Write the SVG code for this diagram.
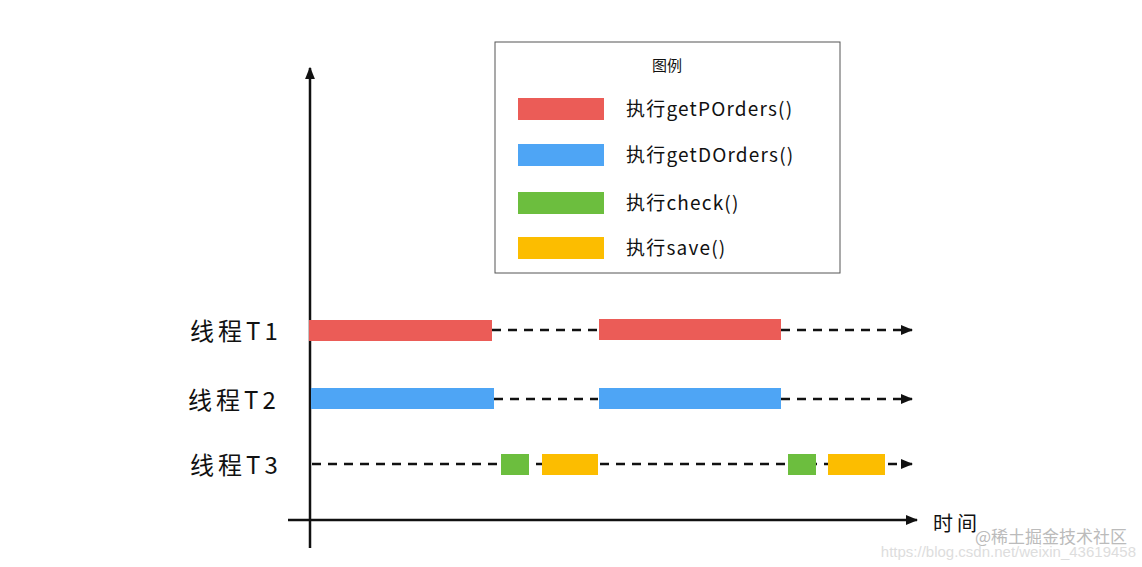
<svg xmlns="http://www.w3.org/2000/svg" width="1142" height="567" viewBox="0 0 1142 567">
<style>
.t{font-family:"Noto Sans CJK SC","Liberation Sans",sans-serif;fill:#111}
.lg{font-size:19px;letter-spacing:1.2px}
.th{font-size:24px;letter-spacing:4px}
.ax{stroke:#111;stroke-width:2.5;fill:none}
.d{stroke:#111;stroke-width:2.5;stroke-dasharray:9 7;fill:none}
.r{fill:#EB5C57}.b{fill:#4EA5F5}.g{fill:#6CBE3E}.y{fill:#FCBD00}
</style>
<defs>
<marker id="a" viewBox="0 0 10 10" refX="9" refY="5" markerWidth="5" markerHeight="5" orient="auto" markerUnits="strokeWidth"><path d="M0,1 L10,5 L0,9 z" fill="#111"/></marker>
</defs>
<rect width="1142" height="567" fill="#fff"/>
<g id="legend">
<rect x="495" y="42" width="345" height="231" fill="#fff" stroke="#555" stroke-width="1"/>
<text class="t" x="667" y="71" font-size="15" text-anchor="middle">图例</text>
<rect class="r" x="518" y="98" width="86" height="22"/>
<text class="t lg" x="626" y="116">执行getPOrders()</text>
<rect class="b" x="518" y="144" width="86" height="22"/>
<text class="t lg" x="626" y="162">执行getDOrders()</text>
<rect class="g" x="518" y="192" width="86" height="22"/>
<text class="t lg" x="626" y="210">执行check()</text>
<rect class="y" x="518" y="237" width="86" height="22"/>
<text class="t lg" x="626" y="255">执行save()</text>
</g>
<g id="connectors">
<line class="ax" x1="310" y1="548" x2="310" y2="68" marker-end="url(#a)"/>
<line class="ax" x1="288" y1="520" x2="917" y2="520" marker-end="url(#a)"/>
<line class="d" x1="492" y1="330" x2="598" y2="330"/>
<line class="d" x1="781" y1="330" x2="912" y2="330" marker-end="url(#a)"/>
<line class="d" x1="494" y1="399" x2="598" y2="399"/>
<line class="d" x1="781" y1="399" x2="912" y2="399" marker-end="url(#a)"/>
<line class="d" x1="312" y1="464" x2="912" y2="464" marker-end="url(#a)"/>
</g>
<g id="t1">
<text class="t th" x="190" y="340">线程T1</text>
<rect class="r" x="309" y="320" width="183" height="21"/>
<rect class="r" x="599" y="319" width="182" height="21"/>
</g>
<g id="t2">
<text class="t th" x="188" y="409">线程T2</text>
<rect class="b" x="311" y="388" width="183" height="21"/>
<rect class="b" x="599" y="388" width="182" height="21"/>
</g>
<g id="t3">
<text class="t th" x="190" y="474">线程T3</text>
<rect class="g" x="501" y="454" width="28" height="21"/>
<rect class="y" x="542" y="454" width="56" height="21"/>
<rect class="g" x="788" y="454" width="28" height="21"/>
<rect class="y" x="828" y="454" width="57" height="21"/>
</g>
<text class="t" x="933" y="531" font-size="20" letter-spacing="4">时间</text>
<text x="1136" y="557" font-size="15" text-anchor="end" font-family="Liberation Sans,sans-serif" fill="#ddd">https://blog.csdn.net/weixin_43619458</text>
<text x="1127" y="543" font-size="17" text-anchor="end" font-family="Noto Sans CJK SC,sans-serif" fill="#bbb">@稀土掘金技术社区</text>
</svg>
